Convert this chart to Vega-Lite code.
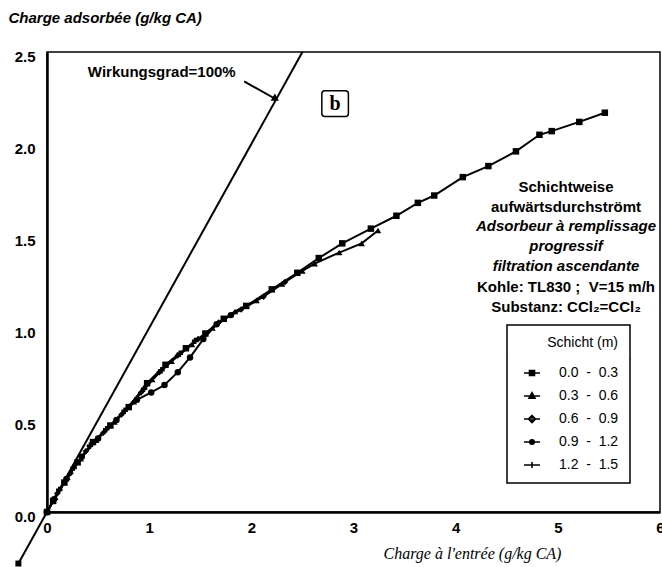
{
  "$schema": "https://vega.github.io/schema/vega-lite/v6.json",
  "width": 613,
  "height": 460,
  "autosize": {"type": "none"},
  "padding": {"left": 47, "top": 52, "right": 2, "bottom": 55},
  "background": "white",
  "config": {
    "view": {"stroke": "black", "strokeWidth": 1.5},
    "font": "Liberation Sans",
    "legend": {"strokeWidth": 1.5}
  },
  "datasets": {
    "series": [
      {"s": "0.0 - 0.3", "x": 0, "y": 0}, {"s": "0.0 - 0.3", "x": 0.06, "y": 0.06}, {"s": "0.0 - 0.3", "x": 0.17, "y": 0.16}, {"s": "0.0 - 0.3", "x": 0.30, "y": 0.27}, {"s": "0.0 - 0.3", "x": 0.45, "y": 0.38}, {"s": "0.0 - 0.3", "x": 0.62, "y": 0.47}, {"s": "0.0 - 0.3", "x": 0.80, "y": 0.57}, {"s": "0.0 - 0.3", "x": 0.98, "y": 0.70}, {"s": "0.0 - 0.3", "x": 1.16, "y": 0.80}, {"s": "0.0 - 0.3", "x": 1.36, "y": 0.89}, {"s": "0.0 - 0.3", "x": 1.55, "y": 0.97}, {"s": "0.0 - 0.3", "x": 1.73, "y": 1.05}, {"s": "0.0 - 0.3", "x": 1.95, "y": 1.12}, {"s": "0.0 - 0.3", "x": 2.20, "y": 1.21}, {"s": "0.0 - 0.3", "x": 2.45, "y": 1.30}, {"s": "0.0 - 0.3", "x": 2.66, "y": 1.38}, {"s": "0.0 - 0.3", "x": 2.89, "y": 1.46}, {"s": "0.0 - 0.3", "x": 3.17, "y": 1.54}, {"s": "0.0 - 0.3", "x": 3.42, "y": 1.61}, {"s": "0.0 - 0.3", "x": 3.63, "y": 1.68}, {"s": "0.0 - 0.3", "x": 3.79, "y": 1.72}, {"s": "0.0 - 0.3", "x": 4.07, "y": 1.82}, {"s": "0.0 - 0.3", "x": 4.32, "y": 1.88}, {"s": "0.0 - 0.3", "x": 4.59, "y": 1.96}, {"s": "0.0 - 0.3", "x": 4.82, "y": 2.05}, {"s": "0.0 - 0.3", "x": 4.94, "y": 2.07}, {"s": "0.0 - 0.3", "x": 5.21, "y": 2.12}, {"s": "0.0 - 0.3", "x": 5.46, "y": 2.17},
      {"s": "0.3 - 0.6", "x": 0, "y": 0}, {"s": "0.3 - 0.6", "x": 0.08, "y": 0.08}, {"s": "0.3 - 0.6", "x": 0.20, "y": 0.19}, {"s": "0.3 - 0.6", "x": 0.33, "y": 0.29}, {"s": "0.3 - 0.6", "x": 0.48, "y": 0.39}, {"s": "0.3 - 0.6", "x": 0.66, "y": 0.49}, {"s": "0.3 - 0.6", "x": 0.85, "y": 0.60}, {"s": "0.3 - 0.6", "x": 1.03, "y": 0.72}, {"s": "0.3 - 0.6", "x": 1.22, "y": 0.82}, {"s": "0.3 - 0.6", "x": 1.42, "y": 0.91}, {"s": "0.3 - 0.6", "x": 1.62, "y": 1.00}, {"s": "0.3 - 0.6", "x": 1.84, "y": 1.09}, {"s": "0.3 - 0.6", "x": 2.05, "y": 1.15}, {"s": "0.3 - 0.6", "x": 2.30, "y": 1.24}, {"s": "0.3 - 0.6", "x": 2.50, "y": 1.31}, {"s": "0.3 - 0.6", "x": 2.62, "y": 1.35}, {"s": "0.3 - 0.6", "x": 2.86, "y": 1.41}, {"s": "0.3 - 0.6", "x": 3.08, "y": 1.46}, {"s": "0.3 - 0.6", "x": 3.24, "y": 1.53},
      {"s": "0.6 - 0.9", "x": 0, "y": 0}, {"s": "0.6 - 0.9", "x": 0.10, "y": 0.10}, {"s": "0.6 - 0.9", "x": 0.23, "y": 0.21}, {"s": "0.6 - 0.9", "x": 0.38, "y": 0.33}, {"s": "0.6 - 0.9", "x": 0.55, "y": 0.43}, {"s": "0.6 - 0.9", "x": 0.73, "y": 0.53}, {"s": "0.6 - 0.9", "x": 0.92, "y": 0.65}, {"s": "0.6 - 0.9", "x": 1.10, "y": 0.76}, {"s": "0.6 - 0.9", "x": 1.28, "y": 0.85}, {"s": "0.6 - 0.9", "x": 1.48, "y": 0.94}, {"s": "0.6 - 0.9", "x": 1.68, "y": 1.03}, {"s": "0.6 - 0.9", "x": 1.90, "y": 1.10}, {"s": "0.6 - 0.9", "x": 2.12, "y": 1.17}, {"s": "0.6 - 0.9", "x": 2.33, "y": 1.25},
      {"s": "0.9 - 1.2", "x": 0, "y": 0}, {"s": "0.9 - 1.2", "x": 0.07, "y": 0.07}, {"s": "0.9 - 1.2", "x": 0.19, "y": 0.18}, {"s": "0.9 - 1.2", "x": 0.34, "y": 0.30}, {"s": "0.9 - 1.2", "x": 0.50, "y": 0.40}, {"s": "0.9 - 1.2", "x": 0.68, "y": 0.50}, {"s": "0.9 - 1.2", "x": 0.88, "y": 0.61}, {"s": "0.9 - 1.2", "x": 1.02, "y": 0.65}, {"s": "0.9 - 1.2", "x": 1.15, "y": 0.69}, {"s": "0.9 - 1.2", "x": 1.28, "y": 0.76}, {"s": "0.9 - 1.2", "x": 1.40, "y": 0.84}, {"s": "0.9 - 1.2", "x": 1.53, "y": 0.94}, {"s": "0.9 - 1.2", "x": 1.66, "y": 1.02}, {"s": "0.9 - 1.2", "x": 1.80, "y": 1.07},
      {"s": "1.2 - 1.5", "x": 0, "y": 0}, {"s": "1.2 - 1.5", "x": 0.12, "y": 0.12}, {"s": "1.2 - 1.5", "x": 0.26, "y": 0.24}, {"s": "1.2 - 1.5", "x": 0.42, "y": 0.36}, {"s": "1.2 - 1.5", "x": 0.58, "y": 0.45}, {"s": "1.2 - 1.5", "x": 0.76, "y": 0.55}, {"s": "1.2 - 1.5", "x": 0.95, "y": 0.67}, {"s": "1.2 - 1.5", "x": 1.12, "y": 0.77}, {"s": "1.2 - 1.5", "x": 1.30, "y": 0.86}, {"s": "1.2 - 1.5", "x": 1.45, "y": 0.93}
    ],
    "xticks": [
      {"tx": 0.2, "major": false}, {"tx": 0.4, "major": false}, {"tx": 0.6, "major": false}, {"tx": 0.8, "major": false}, {"tx": 1, "major": true},
      {"tx": 1.2, "major": false}, {"tx": 1.4, "major": false}, {"tx": 1.6, "major": false}, {"tx": 1.8, "major": false}, {"tx": 2, "major": true},
      {"tx": 2.2, "major": false}, {"tx": 2.4, "major": false}, {"tx": 2.6, "major": false}, {"tx": 2.8, "major": false}, {"tx": 3, "major": true},
      {"tx": 3.2, "major": false}, {"tx": 3.4, "major": false}, {"tx": 3.6, "major": false}, {"tx": 3.8, "major": false}, {"tx": 4, "major": true},
      {"tx": 4.2, "major": false}, {"tx": 4.4, "major": false}, {"tx": 4.6, "major": false}, {"tx": 4.8, "major": false}, {"tx": 5, "major": true},
      {"tx": 5.2, "major": false}, {"tx": 5.4, "major": false}, {"tx": 5.6, "major": false}, {"tx": 5.8, "major": false}
    ],
    "yticks": [
      {"ty": 0.1, "major": false}, {"ty": 0.2, "major": false}, {"ty": 0.3, "major": false}, {"ty": 0.4, "major": false}, {"ty": 0.5, "major": true},
      {"ty": 0.6, "major": false}, {"ty": 0.7, "major": false}, {"ty": 0.8, "major": false}, {"ty": 0.9, "major": false}, {"ty": 1.0, "major": true},
      {"ty": 1.1, "major": false}, {"ty": 1.2, "major": false}, {"ty": 1.3, "major": false}, {"ty": 1.4, "major": false}, {"ty": 1.5, "major": true},
      {"ty": 1.6, "major": false}, {"ty": 1.7, "major": false}, {"ty": 1.8, "major": false}, {"ty": 1.9, "major": false}, {"ty": 2.0, "major": true},
      {"ty": 2.1, "major": false}, {"ty": 2.2, "major": false}, {"ty": 2.3, "major": false}, {"ty": 2.4, "major": false}
    ],
    "ideal": [{"x": -0.28, "y": -0.28}, {"x": 2.5, "y": 2.5}],
    "idealStart": [{"x": -0.28, "y": -0.28}],
    "arrow": [{"x": 1.93, "y": 2.34}, {"x": 2.22, "y": 2.25}],
    "arrowHead": [{"x": 2.24, "y": 2.245}],
    "sep": [{"x": 4.50, "x2": 5.71, "y": 0.83}],
    "box": [{"x": 2.69, "x2": 2.95, "y": 2.15, "y2": 2.29, "t": "b", "xc": 2.82, "yc": 2.215}],
    "wirk": [{"x": 0.40, "y": 2.39, "t": "Wirkungsgrad=100%"}],
    "textUp": [
      {"x": 5.08, "y": 1.766, "t": "Schichtweise"},
      {"x": 5.08, "y": 1.658, "t": "aufwärtsdurchströmt"},
      {"x": 5.08, "y": 1.223, "t": "Kohle: TL830 ;\u00a0\u00a0V=15 m/h"},
      {"x": 5.08, "y": 1.114, "t": "Substanz: CCl₂=CCl₂"}
    ],
    "textIt": [
      {"x": 5.08, "y": 1.554, "t": "Adsorbeur à remplissage"},
      {"x": 5.08, "y": 1.446, "t": "progressif"},
      {"x": 5.08, "y": 1.337, "t": "filtration ascendante"}
    ]
  },
  "encoding": {
    "x": {
      "field": "x", "type": "quantitative",
      "scale": {"domain": [0, 6], "nice": false, "zero": false},
      "axis": {
        "values": [0, 1, 2, 3, 4, 5, 6],
        "format": "d",
        "labelFlush": false, "labelOverlap": false, "labelBound": false,
        "grid": false, "ticks": false,
        "domainColor": "black", "domainWidth": 2.5,
        "labelFont": "Liberation Sans", "labelFontWeight": "bold", "labelFontSize": 15, "labelColor": "black",
        "labelPadding": 8,
        "title": "Charge à l'entrée (g/kg CA)",
        "titleFont": "Liberation Serif", "titleFontStyle": "italic", "titleFontWeight": "normal", "titleFontSize": 16, "titleColor": "black",
        "titleX": 425, "titleY": 41, "titleAlign": "center", "titleBaseline": "middle", "titleAnchor": null
      }
    },
    "y": {
      "field": "y", "type": "quantitative",
      "scale": {"domain": [0, 2.5], "nice": false, "zero": false},
      "axis": {
        "values": [0, 0.5, 1, 1.5, 2, 2.5],
        "format": ".1f",
        "labelOverlap": false, "labelBound": false, "labelFlush": false,
        "grid": false, "ticks": false,
        "domainColor": "black", "domainWidth": 2.5,
        "labelFont": "Liberation Sans", "labelFontWeight": "bold", "labelFontSize": 15, "labelColor": "black",
        "labelPadding": 12, "labelOffset": 4,
        "title": "Charge adsorbée (g/kg CA)",
        "titleFont": "Liberation Sans", "titleFontStyle": "italic", "titleFontWeight": "bold", "titleFontSize": 15, "titleColor": "black",
        "titleAngle": 0, "titleX": -39, "titleY": -35, "titleAlign": "left", "titleBaseline": "middle", "titleAnchor": null
      }
    }
  },
  "layer": [
    {"data": {"name": "xticks"}, "transform": [{"filter": "datum.major"}], "mark": {"type": "rule", "color": "black", "strokeWidth": 1.5, "opacity": 1},
     "encoding": {"x": {"field": "tx", "type": "quantitative"}, "y": {"datum": 0, "type": "quantitative"}, "y2": {"datum": 0.04}}},
    {"data": {"name": "xticks"}, "transform": [{"filter": "!datum.major"}], "mark": {"type": "rule", "color": "black", "strokeWidth": 1.3, "opacity": 1},
     "encoding": {"x": {"field": "tx", "type": "quantitative"}, "y": {"datum": 0, "type": "quantitative"}, "y2": {"datum": 0.025}}},
    {"data": {"name": "yticks"}, "transform": [{"filter": "datum.major"}], "mark": {"type": "rule", "color": "black", "strokeWidth": 1.5, "opacity": 1},
     "encoding": {"y": {"field": "ty", "type": "quantitative"}, "x": {"datum": 0, "type": "quantitative"}, "x2": {"datum": 0.075}}},
    {"data": {"name": "yticks"}, "transform": [{"filter": "!datum.major"}], "mark": {"type": "rule", "color": "black", "strokeWidth": 1.3, "opacity": 1},
     "encoding": {"y": {"field": "ty", "type": "quantitative"}, "x": {"datum": 0, "type": "quantitative"}, "x2": {"datum": 0.05}}},
    {"data": {"name": "ideal"}, "mark": {"type": "line", "color": "black", "strokeWidth": 2}},
    {"data": {"name": "idealStart"}, "mark": {"type": "point", "shape": "square", "filled": true, "color": "black", "size": 36, "opacity": 1}},
    {"data": {"name": "series"}, "mark": {"type": "line", "color": "black", "strokeWidth": 2}, "encoding": {"detail": {"field": "s"}}},
    {"data": {"name": "series"}, "mark": {"type": "point", "filled": true, "color": "black", "size": 42, "opacity": 1},
     "encoding": {"shape": {"field": "s", "type": "nominal", "scale": {"range": ["square", "triangle-up", "diamond", "circle", "cross"]}, "legend": null}}},
    {"data": {"name": "series"}, "mark": {"type": "point", "filled": false, "color": "black", "strokeWidth": 1.6, "opacity": 0},
     "encoding": {"shape": {"field": "s", "type": "nominal",
       "scale": {"range": [
         "M-1.6,0H1.6M-0.5,-0.5H0.5V0.5H-0.5ZM-0.5,-0.25H0.5M-0.5,0.25H0.5",
         "M-1.6,0H1.6M0,-0.65L0.6,0.45H-0.6ZM-0.3,-0.1H0.3M-0.45,0.2H0.45M-0.15,-0.4H0.15",
         "M-1.6,0H1.6M0,-0.7L0.7,0L0,0.7L-0.7,0ZM-0.35,-0.35H0.35M-0.35,0.35H0.35",
         "M-1.6,0H1.6M-0.45,0A0.45,0.45 0 1,0 0.45,0A0.45,0.45 0 1,0 -0.45,0ZM-0.35,-0.25H0.35M-0.35,0.25H0.35",
         "M-1.6,0H1.6M0,-0.6V0.6"
       ]},
       "legend": {
         "orient": "none", "legendX": 460, "legendY": 273,
         "title": "Schicht (m)", "titleAnchor": "end", "titleFont": "Liberation Sans", "titleFontSize": 14, "titleFontWeight": "normal", "titleColor": "black", "titlePadding": 16,
         "labelFont": "Liberation Sans", "labelFontSize": 14, "labelColor": "black", "labelOffset": 20,
         "labelExpr": "replace(datum.label, ' - ', '\u00a0\u00a0-\u00a0\u00a0')",
         "symbolOffset": 7, "symbolSize": 100, "rowPadding": 9, "padding": 11,
         "symbolStrokeColor": "black", "symbolFillColor": "black", "symbolStrokeWidth": 1.6, "symbolOpacity": 1,
         "strokeColor": "black", "fillColor": "white",
         "encode": {
           "symbols": {"opacity": {"value": 1}, "fill": {"value": "black"}, "stroke": {"value": "black"}, "strokeWidth": {"value": 1.6}},
           "legend": {"stroke": {"value": "black"}, "strokeWidth": {"value": 1.5}}
         }
       }}}},
    {"data": {"name": "sep"}, "mark": {"type": "rule", "color": "black", "strokeWidth": 1.5}, "encoding": {"x2": {"field": "x2"}}},
    {"data": {"name": "arrow"}, "mark": {"type": "line", "color": "black", "strokeWidth": 2}},
    {"data": {"name": "arrowHead"}, "mark": {"type": "point", "shape": "triangle-right", "angle": 31, "filled": true, "color": "black", "size": 70, "opacity": 1}},
    {"data": {"name": "box"}, "mark": {"type": "rect", "fill": "white", "stroke": "black", "strokeWidth": 1.5, "cornerRadius": 3}, "encoding": {"x2": {"field": "x2"}, "y2": {"field": "y2"}}},
    {"data": {"name": "box"}, "mark": {"type": "text", "font": "Liberation Serif", "fontWeight": "bold", "fontSize": 20, "color": "black", "baseline": "middle", "align": "center"}, "encoding": {"x": {"field": "xc", "type": "quantitative"}, "y": {"field": "yc", "type": "quantitative"}, "text": {"field": "t"}}},
    {"data": {"name": "wirk"}, "mark": {"type": "text", "font": "Liberation Sans", "fontWeight": "bold", "fontSize": 15, "color": "black", "align": "left", "baseline": "middle"}, "encoding": {"text": {"field": "t"}}},
    {"data": {"name": "textUp"}, "mark": {"type": "text", "font": "Liberation Sans", "fontWeight": "bold", "fontSize": 15, "color": "black", "align": "center", "baseline": "middle"}, "encoding": {"text": {"field": "t"}}},
    {"data": {"name": "textIt"}, "mark": {"type": "text", "font": "Liberation Sans", "fontWeight": "bold", "fontStyle": "italic", "fontSize": 15, "color": "black", "align": "center", "baseline": "middle"}, "encoding": {"text": {"field": "t"}}}
  ],
  "resolve": {"scale": {"shape": "independent"}}
}
